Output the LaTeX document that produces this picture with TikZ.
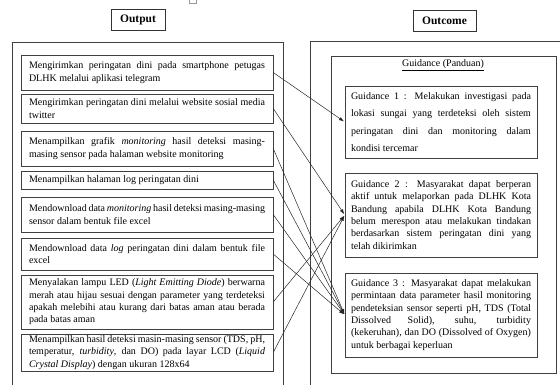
\documentclass[tikz,border=0pt]{standalone}
\usepackage{fontspec}
\setmainfont{Liberation Serif}
\usepackage{tikz}
\usetikzlibrary{arrows.meta, positioning, calc}

\hyphenpenalty=10000

\begin{document}
\begin{tikzpicture}[
    x=1pt, y=-1pt,
    >=Latex,
    ttl/.style={draw=black!80, font=\fontsize{11.5}{13}\selectfont\bfseries, minimum height=21pt, inner sep=2pt},
    outbox/.style={draw=black!75, text width=236pt, inner xsep=8pt, inner ysep=1.5pt, align=justify, font=\fontsize{10}{12.3}\selectfont},
    gbox/.style={draw=black!75, text width=180pt, inner xsep=6pt, inner ysep=2pt, align=justify, minimum height=84pt, font=\fontsize{10}{12.3}\selectfont},
    flow/.style={->, black!85, line width=0.5pt, shorten >=1pt, >={Latex[length=5pt, width=3.5pt]}}
]
\useasboundingbox (0,0) rectangle (560,385);

% small mark at the top
\draw[black!40] (189,0) -- (189,3) -- (196,3) -- (196,0);

% Titles
\node[ttl, minimum width=54pt] (outt) at (138,19.5) {Output};
\node[ttl, minimum width=63pt] (outc) at (444.5,20.5) {Outcome};

% Outer frames (open at the bottom)
\draw[black!75] (12,390) -- (12,42) -- (283,42) -- (283,390);
\draw[black!75] (310,390) -- (310,41) -- (565,41);

% Output list
\node[outbox, minimum height=35pt] (b1) at (147,72.5) {Mengirimkan peringatan dini pada smartphone petugas\linebreak DLHK melalui aplikasi telegram};
\node[outbox, minimum height=29pt] (b2) at (147,108.5) {Mengirimkan peringatan dini melalui website sosial media\linebreak twitter};
\node[outbox, minimum height=35pt] (b3) at (147,148.5) {Menampilkan grafik \textit{monitoring} hasil deteksi masing-\linebreak masing sensor pada halaman website monitoring};
\node[outbox, minimum height=18pt] (b4) at (147,180) {Menampilkan halaman log peringatan dini};
\node[outbox, minimum height=35pt] (b5) at (147,214.5) {Mendownload data \textit{monitoring} hasil deteksi masing-masing\linebreak sensor dalam bentuk file excel};
\node[outbox, minimum height=32pt] (b6) at (147,254) {Mendownload data \textit{log} peringatan dini dalam bentuk file\linebreak excel};
\node[outbox, minimum height=54pt] (b7) at (147,302) {Menyalakan lampu LED (\textit{Light Emitting Diode}) berwarna\linebreak merah atau hijau sesuai dengan parameter yang terdeteksi\linebreak apakah melebihi atau kurang dari batas aman atau berada\linebreak pada batas aman};
\node[outbox, minimum height=37pt] (b8) at (147,352.5) {Menampilkan hasil deteksi masin-masing sensor (TDS, pH,\linebreak temperatur, \textit{turbidity}, dan DO) pada layar LCD (\textit{Liquid\linebreak Crystal Display}) dengan ukuran 128x64};

% Guidance frame
\node[draw=black!75, minimum width=225pt, minimum height=317pt] (guide) at (443.5,214.5) {};
\node[font=\fontsize{10}{12}\selectfont] (guidet) at (443,65) {\underline{Guidance (Panduan)}};

% Outcome list
\node[gbox, minimum height=72pt, font=\fontsize{10}{17.5}\selectfont] (g1) at (441,122) {Guidance 1 : Melakukan investigasi pada\linebreak lokasi sungai yang terdeteksi oleh sistem\linebreak peringatan dini dan monitoring dalam\linebreak kondisi tercemar};
\node[gbox] (g2) at (441,215) {Guidance 2 : Masyarakat dapat berperan\linebreak aktif untuk melaporkan pada DLHK Kota\linebreak Bandung apabila DLHK Kota Bandung\linebreak belum merespon atau melakukan tindakan\linebreak berdasarkan sistem peringatan dini yang\linebreak telah dikirimkan};
\node[gbox] (g3) at (441,315) {Guidance 3 : Masyarakat dapat melakukan\linebreak permintaan data parameter hasil monitoring\linebreak pendeteksian sensor seperti pH, TDS (Total\linebreak Dissolved Solid), suhu, turbidity\linebreak (kekeruhan), dan DO (Dissolved of Oxygen)\linebreak untuk berbagai keperluan};

% Output -> Outcome
\draw[flow] (b1.east) -- (g1.west);
\draw[flow] (b2.east) -- (g2.west);
\draw[flow] (b7.east) -- (g2.west);
\draw[flow] (b8.east) -- (g2.west);
\draw[flow] (b3.east) -- (g3.west);
\draw[flow] (b4.east) -- (g3.west);
\draw[flow] (b5.east) -- (g3.west);
\draw[flow] (b6.east) -- (g3.west);

\end{tikzpicture}
\end{document}
